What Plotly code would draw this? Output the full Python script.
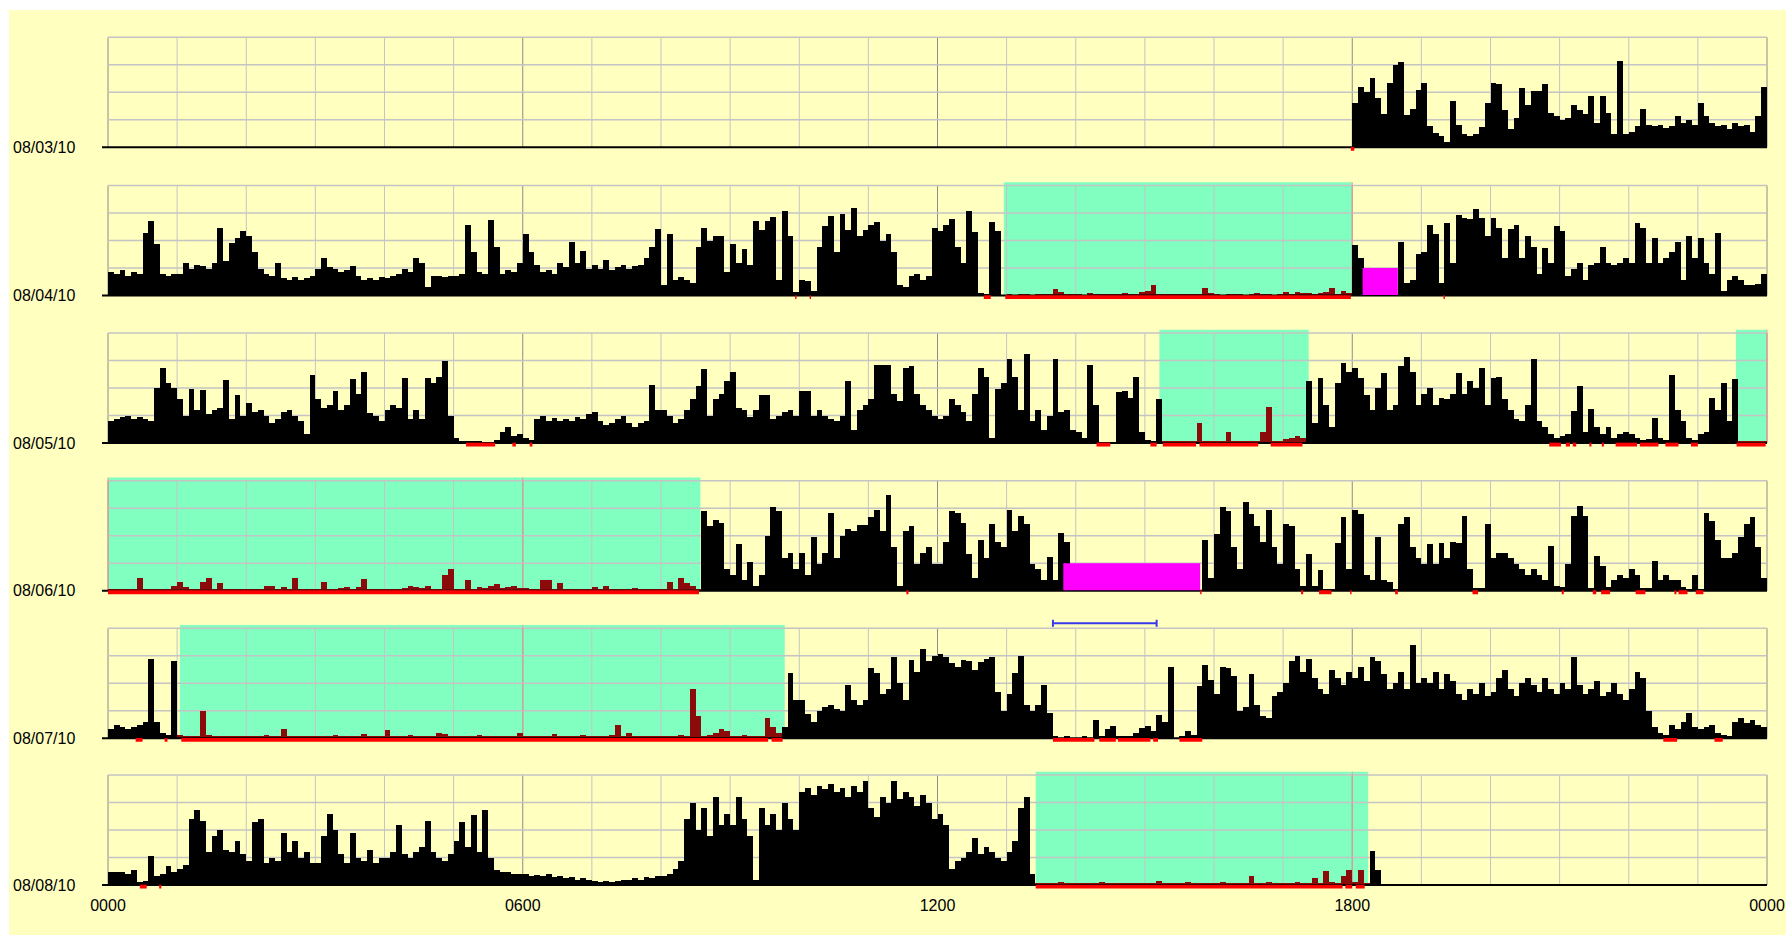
import plotly.graph_objects as go

# ---------------------------------------------------------------- data
DATES = ["08/03/10", "08/04/10", "08/05/10", "08/06/10", "08/07/10", "08/08/10"]
HOUR_TICKS = list(range(25))
LABEL_HOURS = [0, 6, 12, 18, 24]
HOUR_LABELS = ["0000", "0600", "1200", "1800", "0000"]
EPOCH_MIN = 5  # one value per 5-minute epoch, 12 per hour

# activity level per epoch (percent of panel height); None = no recording
ACT_0803 = [None] * 216 + [
    40, 55, 50, 63, 45, 30, 58, 75, 77, 29, 35, 52,
    58, 19, 13, 10, 5, 42, 20, 12, 10, 12, 18, 40,
    58, 57, 34, 16, 26, 54, 38, 51, 51, 57, 31, 28,
    25, 26, 38, 34, 30, 46, 22, 46, 31, 12, 78, 12,
    14, 19, 35, 20, 19, 20, 17, 19, 28, 22, 25, 20,
    40, 28, 22, 19, 20, 16, 22, 19, 20, 14, 28, 55,
]

ACT_0804 = [
    22, 20, 24, 18, 22, 20, 57, 68, 47, 20, 18, 20,
    20, 30, 25, 28, 27, 25, 30, 62, 32, 48, 53, 59,
    55, 40, 25, 20, 18, 30, 16, 15, 17, 15, 16, 18,
    25, 35, 26, 25, 22, 24, 27, 18, 15, 16, 15, 17,
    16, 18, 20, 25, 22, 35, 30, 8, 18, 18, 17, 18,
    18, 20, 65, 40, 22, 20, 69, 45, 20, 24, 22, 30,
    56, 40, 28, 22, 24, 20, 30, 26, 49, 30, 41, 25,
    28, 25, 33, 24, 26, 28, 25, 27, 28, 35, 45, 61,
    10, 56, 15, 17, 15, 12, 45, 62, 50, 55, 55, 22,
    47, 30, 43, 28, 68, 60, 68, 72, 15, 77, 55, 4,
    15, 14, 5, 45, 64, 73, 40, 75, 60, 80, 55, 60,
    65, 67, 50, 56, 40, 10, 8, 18, 20, 15, 18, 62,
    59, 65, 70, 45, 30, 77, 58, 3, 2, 67, 59, 0,
    1, 0, 1, 1, 0, 1, 2, 1, 6, 4, 1, 2,
    1, 0, 3, 1, 1, 2, 1, 2, 3, 2, 1, 4,
    5, 10, 2, 2, 2, 2, 2, 2, 2, 2, 7, 3,
    1, 0, 2, 1, 1, 0, 1, 3, 1, 1, 0, 1,
    4, 2, 4, 3, 3, 2, 3, 4, 7, 2, 5, 3,
    46, 35, 0, 0, 0, 0, 0, 0, 49, 12, 15, 38,
    40, 65, 56, 12, 66, 30, 74, 71, 70, 79, 71, 55,
    71, 62, 35, 61, 65, 35, 55, 45, 20, 44, 30, 64,
    59, 18, 25, 30, 15, 28, 30, 45, 30, 28, 30, 35,
    30, 66, 62, 30, 53, 30, 35, 40, 49, 15, 55, 35,
    53, 30, 20, 57, 5, 15, 18, 15, 10, 10, 11, 20,
]

ACT_0805 = [
    20, 22, 24, 25, 22, 24, 22, 20, 50, 68, 55, 50,
    40, 25, 49, 30, 48, 26, 30, 32, 57, 22, 44, 25,
    36, 28, 30, 25, 18, 22, 28, 30, 25, 20, 8, 62,
    40, 32, 35, 47, 30, 35, 58, 45, 65, 27, 25, 20,
    30, 35, 32, 59, 22, 30, 22, 59, 55, 60, 75, 25,
    5, 2, 1, 2, 1, 0, 0, 3, 10, 15, 6, 8,
    5, 3, 22, 25, 20, 23, 20, 22, 20, 24, 22, 26,
    28, 20, 16, 18, 22, 25, 18, 15, 18, 20, 53, 30,
    30, 25, 18, 22, 30, 40, 52, 67, 25, 40, 45, 56,
    65, 32, 30, 24, 30, 44, 44, 22, 25, 28, 30, 25,
    47, 47, 25, 30, 25, 22, 20, 25, 56, 12, 30, 35,
    40, 71, 71, 71, 45, 38, 68, 70, 45, 35, 30, 25,
    22, 25, 40, 35, 28, 20, 45, 68, 60, 5, 49, 55,
    76, 60, 30, 81, 20, 30, 12, 25, 76, 28, 30, 12,
    10, 5, 71, 35, 0, 0, 0, 46, 47, 41, 60, 10,
    3, 2, 40, 1, 1, 2, 1, 2, 1, 18, 1, 1,
    1, 2, 10, 1, 2, 1, 2, 1, 10, 33, 1, 2,
    4, 5, 6, 5, 56, 18, 59, 35, 15, 55, 73, 65,
    68, 59, 44, 30, 50, 64, 30, 35, 70, 78, 65, 35,
    45, 50, 35, 41, 40, 45, 64, 45, 56, 50, 68, 35,
    59, 60, 40, 30, 22, 20, 35, 76, 20, 15, 8, 5,
    6, 8, 29, 52, 10, 31, 15, 8, 15, 5, 8, 10,
    8, 5, 3, 4, 23, 5, 3, 62, 30, 20, 5, 3,
    8, 10, 41, 30, 55, 20, 58, 2, 1, 1, 2, 1,
]

ACT_0806 = [
    2, 2, 2, 2, 2, 12, 2, 2, 2, 2, 2, 5,
    8, 4, 2, 2, 8, 12, 2, 7, 2, 2, 2, 2,
    2, 2, 2, 5, 5, 2, 4, 2, 12, 2, 2, 2,
    1, 8, 1, 1, 3, 4, 1, 4, 11, 1, 1, 1,
    1, 1, 1, 3, 5, 4, 3, 5, 1, 1, 15, 20,
    1, 2, 10, 2, 4, 3, 5, 6, 3, 4, 5, 3,
    3, 2, 2, 10, 10, 2, 7, 2, 1, 2, 1, 1,
    4, 1, 5, 1, 1, 2, 1, 3, 1, 1, 1, 2,
    2, 8, 2, 12, 7, 5, 2, 73, 59, 65, 62, 20,
    15, 43, 10, 26, 5, 15, 50, 76, 73, 30, 35, 20,
    35, 15, 49, 25, 35, 71, 30, 50, 56, 55, 60, 60,
    67, 74, 55, 87, 40, 5, 55, 59, 25, 35, 40, 25,
    25, 45, 73, 71, 62, 34, 12, 46, 30, 61, 45, 40,
    74, 55, 68, 61, 25, 20, 10, 31, 10, 53, 45, 0,
    0, 0, 0, 0, 0, 0, 0, 0, 0, 0, 0, 0,
    0, 0, 0, 0, 0, 0, 0, 0, 0, 0, 46, 12,
    52, 76, 73, 40, 20, 81, 70, 59, 45, 74, 40, 25,
    61, 59, 20, 5, 34, 5, 19, 2, 2, 44, 67, 20,
    74, 70, 15, 10, 49, 10, 8, 2, 61, 67, 40, 30,
    25, 43, 25, 44, 30, 45, 44, 68, 20, 3, 3, 61,
    30, 35, 35, 30, 25, 20, 15, 20, 15, 10, 41, 5,
    4, 25, 68, 77, 68, 3, 32, 23, 4, 10, 15, 12,
    20, 15, 3, 3, 27, 10, 15, 10, 10, 4, 2, 15,
    2, 71, 64, 46, 30, 30, 35, 49, 61, 67, 40, 12,
]

ACT_0807 = [
    8, 12, 10, 8, 10, 12, 15, 72, 15, 5, 3, 70,
    3, 2, 2, 2, 25, 3, 2, 2, 1, 2, 1, 2,
    1, 2, 1, 3, 1, 1, 8, 2, 1, 2, 1, 1,
    2, 1, 1, 3, 1, 2, 1, 1, 4, 1, 2, 1,
    7, 1, 2, 1, 3, 1, 1, 2, 1, 5, 4, 1,
    1, 2, 1, 1, 3, 1, 2, 1, 1, 2, 1, 5,
    1, 1, 2, 1, 1, 4, 1, 2, 1, 1, 3, 1,
    2, 1, 1, 3, 12, 2, 5, 1, 1, 2, 1, 2,
    1, 2, 1, 3, 2, 45, 20, 2, 3, 5, 8, 6,
    2, 1, 3, 2, 1, 2, 18, 10, 5, 10, 59, 35,
    35, 22, 15, 25, 28, 30, 26, 25, 48, 35, 30, 35,
    64, 59, 40, 45, 74, 50, 35, 71, 60, 81, 70, 75,
    76, 74, 68, 65, 71, 70, 62, 69, 72, 74, 42, 25,
    40, 59, 75, 30, 25, 30, 48, 23, 1, 0, 1, 0,
    0, 1, 0, 16, 2, 8, 11, 2, 1, 1, 5, 9,
    11, 6, 21, 15, 65, 0, 1, 6, 3, 47, 66, 53,
    40, 65, 64, 56, 25, 28, 58, 30, 20, 18, 38, 42,
    50, 70, 75, 60, 72, 55, 45, 40, 62, 55, 48, 60,
    55, 65, 52, 74, 70, 58, 45, 50, 60, 45, 85, 50,
    55, 50, 60, 45, 58, 52, 40, 35, 45, 40, 50, 38,
    42, 55, 62, 45, 38, 50, 55, 48, 42, 55, 45, 40,
    50, 45, 74, 48, 40, 45, 52, 38, 42, 50, 40, 35,
    45, 60, 55, 25, 10, 5, 3, 12, 8, 15, 23, 10,
    8, 10, 12, 5, 3, 2, 15, 18, 14, 16, 12, 10,
]

ACT_0808 = [
    12, 12, 12, 10, 14, 3, 4, 26, 8, 10, 17, 12,
    15, 18, 60, 68, 58, 30, 45, 50, 32, 30, 40, 28,
    22, 57, 60, 20, 25, 22, 47, 30, 40, 25, 30, 20,
    20, 45, 65, 50, 28, 20, 47, 25, 22, 32, 20, 25,
    25, 30, 55, 28, 25, 30, 35, 58, 30, 25, 22, 28,
    40, 57, 35, 64, 30, 68, 25, 14, 12, 12, 10, 10,
    10, 8, 9, 8, 10, 7, 8, 6, 7, 5, 6, 5,
    4, 3, 4, 3, 4, 5, 5, 6, 5, 7, 6, 8,
    8, 10, 15, 22, 60, 75, 50, 70, 45, 80, 55, 65,
    55, 80, 60, 45, 5, 70, 55, 65, 50, 75, 60, 50,
    85, 88, 82, 90, 87, 92, 85, 88, 80, 90, 85, 95,
    70, 62, 80, 75, 95, 78, 85, 80, 72, 82, 75, 60,
    65, 55, 15, 22, 25, 30, 43, 28, 35, 30, 25, 22,
    30, 40, 70, 80, 10, 2, 1, 2, 1, 3, 2, 1,
    1, 2, 1, 1, 3, 1, 2, 1, 1, 2, 1, 1,
    2, 1, 4, 1, 2, 1, 1, 3, 1, 1, 2, 1,
    1, 3, 1, 2, 1, 1, 8, 2, 1, 3, 1, 2,
    2, 1, 3, 1, 1, 6, 2, 13, 3, 2, 8, 14,
    3, 14, 2, 31, 14,
] + [None] * 67

ACTIVITY = [ACT_0803, ACT_0804, ACT_0805, ACT_0806, ACT_0807, ACT_0808]

# rest intervals (hours of day)
SLEEP = [
    [],
    [(12.96, 18.0)],
    [(15.21, 17.37), (23.55, 24.0)],
    [(0.0, 8.57)],
    [(1.04, 9.79)],
    [(13.42, 18.23)],
]

# off-wrist intervals
OFF_WRIST = [
    [],
    [(18.15, 18.66)],
    [],
    [(13.82, 15.8)],
    [],
    [],
]

# epochs scored as sleep
SCORED = [
    [(17.98, 18.03)],
    [(9.94, 9.96), (10.15, 10.17), (12.67, 12.77), (12.98, 17.98), (19.32, 19.34)],
    [(5.18, 5.6), (5.85, 5.9), (6.1, 6.14), (14.3, 14.5), (15.08, 15.17),
     (15.26, 15.74), (15.79, 16.64), (16.82, 17.28), (20.85, 21.02),
     (21.09, 21.15), (21.19, 21.24), (21.43, 21.46), (21.61, 21.64),
     (21.81, 22.12), (22.16, 22.43), (22.53, 22.72), (22.9, 23.0), (23.56, 23.98)],
    [(0.0, 8.55), (11.55, 11.58), (15.8, 15.82), (17.26, 17.29), (17.52, 17.7),
     (17.97, 17.99), (18.62, 18.66), (19.74, 19.82), (21.03, 21.06),
     (21.48, 21.53), (21.6, 21.73), (22.1, 22.24), (22.66, 22.69),
     (22.72, 22.85), (22.97, 23.08)],
    [(0.4, 0.5), (0.82, 0.86), (1.06, 9.55), (9.6, 9.76), (13.67, 14.27),
     (14.34, 14.58), (14.61, 15.08), (15.12, 15.19), (15.5, 15.83),
     (22.5, 22.7), (23.24, 23.36)],
    [(0.46, 0.56), (0.74, 0.77), (13.42, 17.86), (17.9, 18.0), (18.05, 18.18)],
]

# marked span drawn above the 08/07/10 panel
MARK_ROW = 4
MARK_SPAN = (13.67, 15.17)

for day in ACTIVITY:
    assert len(day) == 24 * 60 // EPOCH_MIN, len(day)

# ---------------------------------------------------------------- layout
W, H = 1786, 935
X_LEFT, X_RIGHT = 108.0, 1767.0
BASELINES = [147.3, 295.5, 443.0, 590.7, 738.3, 885.0]
PANEL_H = 110.0
PAD = 6.0
px_hour = (X_RIGHT - X_LEFT) / 24.0
px_unit = PANEL_H / 100.0

BG = "#FFFFC0"
GREEN = "#80FFC0"
MAGENTA = "#FF00FF"
RED = "#FF0000"
MINOR_GRID = "#C4C4C4"
MAJOR_GRID = "#8C8C8C"
PINK_GRID = "#F09A9A"
BAR_AWAKE = "#000000"
BAR_REST = "#8B0A0A"
FONT = "Liberation Sans"
FONT_SIZE = 16

fig = go.Figure()
shapes = []
annotations = []
epoch_h = EPOCH_MIN / 60.0


def in_any(h, spans):
    return any(a <= h <= b for a, b in spans)


for i, vals in enumerate(ACTIVITY):
    n = i + 1
    xa, ya = f"x{n}" if n > 1 else "x", f"y{n}" if n > 1 else "y"
    xkey, ykey = f"xaxis{n}" if n > 1 else "xaxis", f"yaxis{n}" if n > 1 else "yaxis"
    b = BASELINES[i]

    fig.update_layout({
        xkey: dict(
            domain=[(X_LEFT - 7) / W, (X_RIGHT + 2) / W],
            range=[-7 / px_hour, 24 + 2 / px_hour],
            showgrid=False, zeroline=False, showline=False, ticks="",
            showticklabels=(n == len(ACTIVITY)),
            tickvals=LABEL_HOURS, ticktext=HOUR_LABELS,
            tickfont=dict(family=FONT, size=FONT_SIZE, color="#000000"),
            ticklabelstandoff=3, automargin=False,
            fixedrange=True,
            anchor=ya,
        ),
        ykey: dict(
            domain=[1 - (b + PAD) / H, 1 - (b - PANEL_H - PAD) / H],
            range=[-PAD / px_unit, 100 + PAD / px_unit],
            showgrid=False, zeroline=False, showline=False,
            showticklabels=False, ticks="", fixedrange=True, automargin=False,
            anchor=xa,
        ),
    })

    # rest intervals (under the grid)
    for s, e in SLEEP[i]:
        shapes.append(dict(type="rect", xref=xa, yref=ya, x0=s, x1=e, y0=0, y1=103,
                           fillcolor=GREEN, line_width=0, layer="below"))

    # grid
    for h in HOUR_TICKS:
        col = MAJOR_GRID if h % 6 == 0 else MINOR_GRID
        shapes.append(dict(type="line", xref=xa, yref=ya, x0=h, x1=h, y0=0, y1=100,
                           line=dict(color=col, width=1), layer="below"))
    for lvl in (25, 50, 75, 100):
        shapes.append(dict(type="line", xref=xa, yref=ya, x0=0, x1=24, y0=lvl, y1=lvl,
                           line=dict(color=MINOR_GRID, width=1.5), layer="below"))
    for s, e in SLEEP[i]:
        for h in LABEL_HOURS:
            if s <= h <= e:
                shapes.append(dict(type="line", xref=xa, yref=ya, x0=h, x1=h, y0=0, y1=103,
                                   line=dict(color=PINK_GRID, width=1), layer="below"))

    # activity bars
    xs, ys, cols = [], [], []
    for k, v in enumerate(vals):
        if v is None:
            continue
        c = (k + 0.5) * epoch_h
        xs.append(c)
        ys.append(v)
        cols.append(BAR_REST if in_any(c, SLEEP[i]) else BAR_AWAKE)
    fig.add_trace(go.Bar(x=xs, y=ys, width=epoch_h, marker=dict(color=cols, line_width=0),
                         xaxis=xa, yaxis=ya, hoverinfo="skip", showlegend=False))

    # baseline
    shapes.append(dict(type="line", xref=xa, yref=ya, x0=-6 / px_hour, x1=24, y0=0, y1=0,
                       line=dict(color="#000000", width=2), layer="above"))

    # off-wrist blocks
    for s, e in OFF_WRIST[i]:
        shapes.append(dict(type="rect", xref=xa, yref=ya, x0=s, x1=e, y0=0.5, y1=25,
                           fillcolor=MAGENTA, line_width=0, layer="above"))

    # sleep-scored epochs
    for s, e in SCORED[i]:
        shapes.append(dict(type="rect", xref=xa, yref=ya, x0=s, x1=e, y0=-3.2, y1=0.3,
                           fillcolor=RED, line_width=0, layer="above"))

    annotations.append(dict(text=DATES[i], xref="paper", yref=ya, x=11 / W, y=0,
                            xanchor="left", yanchor="middle", showarrow=False,
                            font=dict(family=FONT, size=FONT_SIZE, color="#000000")))

# marked span with end caps
mr = MARK_ROW + 1
mxa = f"x{mr}"
my = 1 - (BASELINES[MARK_ROW] - PANEL_H - 5) / H
cap = 3.5 / H
blue = "#3838F0"
shapes.append(dict(type="line", xref=mxa, yref="paper", x0=MARK_SPAN[0], x1=MARK_SPAN[1],
                   y0=my, y1=my, line=dict(color=blue, width=2)))
for xm in MARK_SPAN:
    shapes.append(dict(type="line", xref=mxa, yref="paper", x0=xm, x1=xm,
                       y0=my - cap, y1=my + cap, line=dict(color=blue, width=2)))

# white frame strips on top and left
shapes.append(dict(type="rect", xref="paper", yref="paper", x0=0, x1=1, y0=1 - 10 / H, y1=1,
                   fillcolor="#FFFFFF", line_width=0, layer="below"))
shapes.append(dict(type="rect", xref="paper", yref="paper", x0=0, x1=9 / W, y0=0, y1=1,
                   fillcolor="#FFFFFF", line_width=0, layer="below"))

fig.update_layout(
    width=W, height=H, autosize=False,
    margin=dict(l=0, r=0, t=0, b=0, pad=0, autoexpand=False),
    paper_bgcolor=BG, plot_bgcolor=BG,
    bargap=0, barmode="overlay",
    shapes=shapes, annotations=annotations,
    showlegend=False,
)

# page without body margin or scrollbars so the figure fills the window exactly
page_js = ("document.body.style.margin='0';document.body.style.padding='0';"
           "document.body.style.overflow='hidden';")

fig.write_html("out.html", config={"displayModeBar": False, "responsive": False},
               post_script=page_js)
